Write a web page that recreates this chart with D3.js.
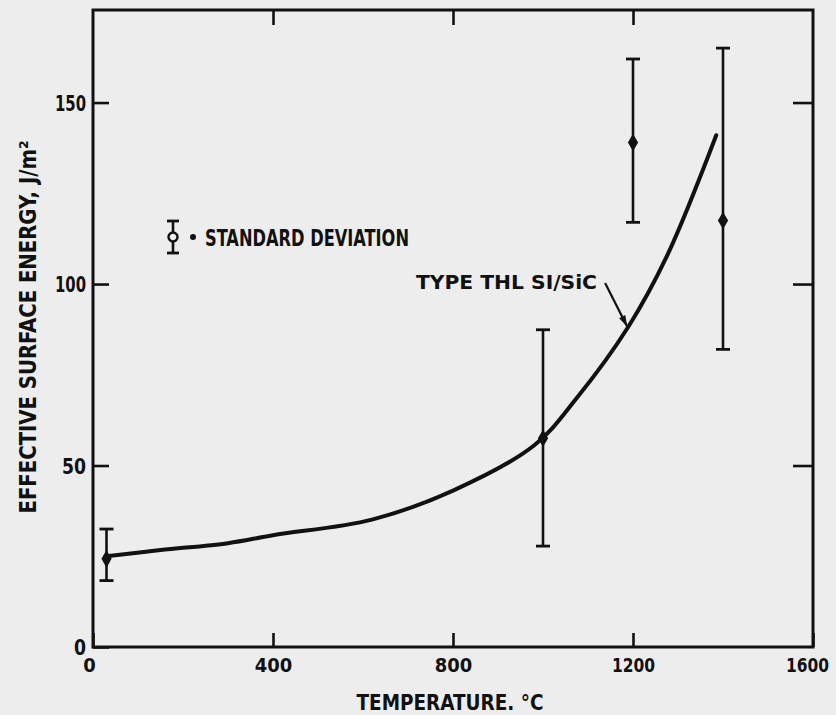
<!DOCTYPE html>
<html>
<head>
<meta charset="utf-8">
<script src="https://cdn.jsdelivr.net/npm/d3@7"></script>
<style>
  body { margin: 0; background: #ededed; }
  text { font-family: "DejaVu Sans Condensed", "DejaVu Sans", sans-serif; font-stretch: condensed; font-weight: bold; fill: #111; }
</style>
</head>
<body>
<script>
// width / height of the page
var W = 836, H = 715;

// measured points, temperature in deg C, surface energy in J/m2
var temps  = [30, 1000, 1200, 1400];
var energy = [24.3, 57.5, 139, 117.5];
var sdLow  = [18.3, 27.8, 117, 82];
var sdHigh = [32.5, 87.4, 162, 165];

// the fitted curve "TYPE THL Si/SiC"
var curveT = [30, 150, 300, 400, 620, 800, 980, 1075, 1190, 1275, 1385];
var curveE = [25, 26.7, 28.6, 30.8, 35.1, 43.1, 55.5, 68.6, 88.3, 107.6, 141];

// tick labels
var xTicks = [0, 400, 800, 1200, 1600];
var yTicks = [0, 50, 100, 150];

var x = d3.scaleLinear().domain([0, 1600]).range([93, 813]);
var y = d3.scaleLinear().domain([0, 175.5]).range([647, 10]);

var svg = d3.select("body")
  .append("svg")
  .attr("width", W)
  .attr("height", H);

svg.append("rect")
  .attr("width", W)
  .attr("height", H)
  .style("fill", "#ededed");

var ink = "#111";

// frame around the plot
svg.append("rect")
  .attr("x", x(0))
  .attr("y", y(175.5))
  .attr("width", x(1600) - x(0))
  .attr("height", y(0) - y(175.5))
  .style("fill", "none")
  .style("stroke", ink)
  .style("stroke-width", 3);

// bottom axis, ticks pointing inward
var xAxis = svg.append("g")
  .attr("transform", "translate(0," + y(0) + ")")
  .call(d3.axisBottom(x).tickValues(xTicks).tickSize(-14).tickPadding(11).tickFormat(d3.format("d")));
// the lettering is narrow, squeeze the digits a bit
xAxis.selectAll("text")
  .style("font-size", "20px")
  .attr("textLength", function(d){ var s = String(d); return s.length * 12.5 - (s[0] == "1" ? 7 : 0); })
  .attr("lengthAdjust", "spacingAndGlyphs")
  .attr("dx", function(d){ return d == 0 ? "-4px" : d == 1600 ? "-6px" : 0; });

// left axis
var yAxis = svg.append("g")
  .attr("transform", "translate(" + x(0) + ",0)")
  .call(d3.axisLeft(y).tickValues(yTicks).tickSize(-16).tickPadding(7));
yAxis.selectAll("text")
  .style("font-size", "21px")
  .attr("dy", "0.36em")
  .attr("textLength", function(d){ var s = String(d); return s.length * 12 - (s[0] == "1" ? 5 : 0); })
  .attr("lengthAdjust", "spacingAndGlyphs");

// top and right ticks, no labels
var topAxis = svg.append("g")
  .attr("transform", "translate(0," + y(175.5) + ")")
  .call(d3.axisTop(x).tickValues([400, 800, 1200]).tickSize(-15).tickFormat(""));
var rightAxis = svg.append("g")
  .attr("transform", "translate(" + x(1600) + ",0)")
  .call(d3.axisRight(y).tickValues([50, 100, 150]).tickSize(-20).tickFormat(""));

svg.selectAll(".domain").remove();
svg.selectAll(".tick line").style("stroke", ink).style("stroke-width", 2.6);

// curve
var line = d3.line()
  .x(function(d){ return x(d[0]); })
  .y(function(d){ return y(d[1]); })
  .curve(d3.curveCatmullRom.alpha(0.5));

svg.append("path")
  .datum(d3.zip(curveT, curveE))
  .attr("d", line)
  .style("fill", "none")
  .style("stroke", ink)
  .style("stroke-width", 4)
  .style("stroke-linecap", "round");

// error bars
var pts = temps.map(function(t, i){ return {t: t, e: energy[i], lo: sdLow[i], hi: sdHigh[i]}; });
var bars = svg.selectAll("g.bar")
  .data(pts)
  .enter().append("g")
  .attr("class", "bar");

bars.append("line")
  .attr("x1", function(d){ return x(d.t); })
  .attr("x2", function(d){ return x(d.t); })
  .attr("y1", function(d){ return y(d.lo); })
  .attr("y2", function(d){ return y(d.hi); })
  .style("stroke", ink).style("stroke-width", 2.6);

bars.selectAll("line.cap")
  .data(function(d){ return [{t: d.t, v: d.lo}, {t: d.t, v: d.hi}]; })
  .enter().append("line")
  .attr("class", "cap")
  .attr("x1", function(d){ return x(d.t) - 7; })
  .attr("x2", function(d){ return x(d.t) + 7; })
  .attr("y1", function(d){ return y(d.v); })
  .attr("y2", function(d){ return y(d.v); })
  .style("stroke", ink).style("stroke-width", 2.8);

bars.append("path")
  .attr("d", d3.symbol().type(d3.symbolDiamond).size(90))
  .attr("transform", function(d){ return "translate(" + x(d.t) + "," + y(d.e) + ")"; })
  .style("fill", ink);

// annotation for the curve
var tip = [1187, 88.3], tail = [1138, 100.3];
svg.append("line")
  .attr("x1", x(tail[0])).attr("y1", y(tail[1]))
  .attr("x2", x(tip[0])).attr("y2", y(tip[1]))
  .style("stroke", ink).style("stroke-width", 2.2);
var ang = Math.atan2(y(tip[1]) - y(tail[1]), x(tip[0]) - x(tail[0])) * 180 / Math.PI;
svg.append("path")
  .attr("d", "M0,0 L-11,-3.5 L-11,3.5 Z")
  .attr("transform", "translate(" + x(tip[0]) + "," + y(tip[1]) + ") rotate(" + ang + ")")
  .style("fill", ink);

svg.append("text")
  .attr("x", 416).attr("y", 289)
  .attr("textLength", 181).attr("lengthAdjust", "spacingAndGlyphs")
  .style("font-size", "20px")
  .text("TYPE THL SI/SiC");

// legend: standard deviation symbol
var lg = svg.append("g").attr("transform", "translate(173,237)");
lg.append("line").attr("y1", -16).attr("y2", 16).style("stroke", ink).style("stroke-width", 2.6);
lg.append("line").attr("x1", -6).attr("x2", 6).attr("y1", -16).attr("y2", -16).style("stroke", ink).style("stroke-width", 2.8);
lg.append("line").attr("x1", -6).attr("x2", 6).attr("y1", 16).attr("y2", 16).style("stroke", ink).style("stroke-width", 2.8);
lg.append("circle").attr("r", 4.5).style("fill", "#ededed").style("stroke", ink).style("stroke-width", 2.4);
lg.append("circle").attr("cx", 20).attr("r", 3).style("fill", ink);
lg.append("text")
  .attr("x", 32).attr("y", 9)
  .attr("textLength", 204).attr("lengthAdjust", "spacingAndGlyphs")
  .style("font-size", "23px")
  .text("STANDARD DEVIATION");

// axis titles
svg.append("text")
  .attr("transform", "translate(36,327) rotate(-90)")
  .attr("text-anchor", "middle")
  .attr("textLength", 373).attr("lengthAdjust", "spacingAndGlyphs")
  .style("font-size", "23px")
  .text("EFFECTIVE SURFACE ENERGY, J/m²");

svg.append("text")
  .attr("x", 450).attr("y", 710)
  .attr("text-anchor", "middle")
  .attr("textLength", 187).attr("lengthAdjust", "spacingAndGlyphs")
  .style("font-size", "22px")
  .text("TEMPERATURE. °C");
</script>
</body>
</html>
